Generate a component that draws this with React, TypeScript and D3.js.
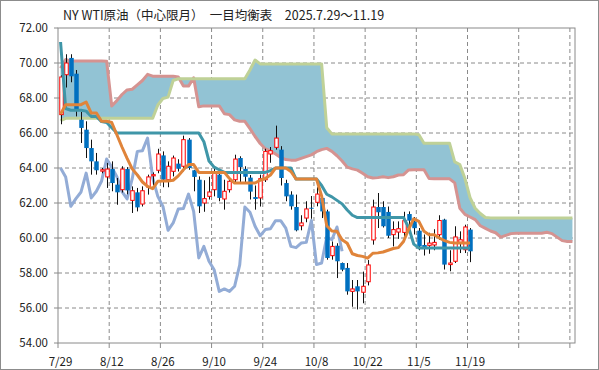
import React from "react"
import * as d3 from "d3"

// trading days 7/29 .. 11/19
const dates = [
  "7/29","7/30","7/31","8/1","8/4","8/5","8/6","8/7","8/8","8/11",
  "8/12","8/13","8/14","8/15","8/18","8/19","8/20","8/21","8/22","8/25",
  "8/26","8/27","8/28","8/29","9/2","9/3","9/4","9/5","9/8","9/9",
  "9/10","9/11","9/12","9/15","9/16","9/17","9/18","9/19","9/22","9/23",
  "9/24","9/25","9/26","9/29","9/30","10/1","10/2","10/3","10/6","10/7",
  "10/8","10/9","10/10","10/13","10/14","10/15","10/16","10/17","10/20","10/21",
  "10/22","10/23","10/24","10/27","10/28","10/29","10/30","10/31","11/3","11/4",
  "11/5","11/6","11/7","11/10","11/11","11/12","11/13","11/14","11/17","11/18",
  "11/19"
]
const tickLabels = ["7/29","8/12","8/26","9/10","9/24","10/8","10/22","11/5","11/19","",""]
const yTicks = [54, 56, 58, 60, 62, 64, 66, 68, 70, 72]

const open = [
  67.05, 69.33, 70.29, 69.39, 66.76, 66.19, 65.14, 64.38, 63.82, 63.49,
  63.94, 63.05, 62.76, 63.94, 62.15, 62.61, 61.94, 62.91, 63.55, 63.87,
  64.72, 63.33, 63.81, 64.25, 64.10, 65.62, 63.87, 63.33, 62.00, 62.38,
  62.76, 63.62, 62.23, 62.76, 63.33, 64.57, 63.95, 63.45, 62.34, 62.29,
  63.33, 64.80, 65.18, 65.05, 63.14, 62.48, 61.77, 60.70, 61.14, 61.73,
  62.04, 62.29, 61.52, 58.99, 59.56, 58.57, 58.29, 56.95, 57.24, 56.90,
  57.50, 59.89, 61.77, 61.77, 61.49, 60.19, 60.34, 60.32, 61.37, 60.95,
  60.42, 59.60, 59.58, 59.60, 60.19, 61.05, 58.48, 58.67, 59.75, 59.33,
  60.48
]
const high = [
  69.3, 70.5, 70.5, 69.6, 67.2, 66.67, 65.62, 64.86, 64.0, 64.29,
  64.38, 63.43, 64.1, 64.05, 62.95, 62.86, 62.95, 63.62, 63.75, 65.1,
  64.95, 64.38, 64.71, 64.5, 65.85, 65.71, 63.9, 63.52, 63.3, 63.5,
  64.1, 63.9, 63.33, 63.43, 64.76, 64.67, 64.1, 63.6, 63.0, 63.62,
  65.1, 65.2, 66.42, 65.25, 63.33, 62.67, 62.48, 61.3, 62.1, 62.4,
  62.9, 62.38, 61.62, 59.8, 59.7, 58.6, 58.57, 57.6, 57.6, 58.08,
  58.74, 62.19, 62.57, 62.1, 61.8, 60.95, 60.95, 61.5, 61.52, 61.2,
  60.57, 60.2, 60.3, 60.5, 61.3, 61.1, 59.3, 60.67, 60.38, 60.76,
  60.57
]
const low = [
  66.5, 68.6, 68.9, 66.95, 65.43, 64.57, 63.62, 63.62, 63.7, 62.86,
  62.67, 61.9, 62.6, 62.5, 61.43, 61.52, 61.8, 62.48, 63.0, 63.7,
  62.9, 62.9, 63.52, 63.8, 63.81, 63.9, 62.67, 61.43, 61.5, 62.2,
  62.38, 62.1, 61.62, 62.6, 63.14, 63.14, 63.1, 62.2, 61.62, 61.8,
  63.2, 64.3, 65.05, 63.0, 62.1, 61.62, 60.38, 60.44, 60.9, 61.1,
  61.81, 61.14, 58.76, 58.76, 57.71, 58.1, 56.76, 56.07, 55.92, 56.27,
  57.29, 59.62, 60.57, 60.6, 60.0, 59.52, 59.95, 59.95, 60.5, 60.2,
  59.3, 59.0, 59.1, 59.3, 59.9, 58.2, 58.1, 58.57, 59.14, 59.14,
  58.62
]
const close = [
  69.20, 70.00, 69.24, 67.30, 66.29, 65.14, 64.38, 63.87, 63.90, 63.94,
  63.14, 62.61, 63.94, 62.72, 62.70, 61.75, 62.70, 63.49, 63.62, 64.80,
  63.33, 64.10, 64.57, 63.96, 65.62, 64.00, 63.49, 61.81, 62.25, 62.63,
  63.71, 62.29, 62.67, 63.24, 64.51, 64.05, 63.50, 62.65, 62.23, 63.39,
  64.95, 64.99, 65.71, 63.43, 62.38, 61.81, 60.44, 60.86, 61.66, 61.68,
  62.51, 61.52, 58.86, 59.52, 58.67, 58.19, 56.95, 57.09, 56.95, 57.24,
  58.46, 61.77, 61.47, 60.67, 60.13, 60.48, 60.53, 60.99, 60.99, 60.56,
  59.52, 59.45, 59.71, 59.75, 61.00, 58.48, 58.57, 60.06, 59.90, 60.63,
  59.24
]

// 転換線
const tenkan = [
  67.09, 67.62, 67.62, 67.62, 67.62, 67.77, 67.14, 67.14, 66.67, 66.67,
  66.6, 65.9, 65.2, 64.55, 63.95, 63.6, 63.2, 62.95, 62.82, 63.24,
  63.26, 63.26, 63.3, 63.55, 63.9, 64.2, 64.2, 63.75, 63.75, 63.75,
  63.75, 63.75, 63.75, 63.4, 63.14, 63.14, 63.14, 63.14, 63.14, 63.3,
  63.4, 63.6, 64.0, 64.0, 64.0, 63.8, 63.37, 63.37, 63.37, 63.37,
  63.37, 62.4, 60.7, 60.4, 60.38, 59.9, 59.7, 59.1, 59.0, 58.95,
  58.85, 59.13, 59.15, 59.2, 59.3, 59.4, 59.45, 59.8, 60.5, 61.1,
  60.95, 60.38, 60.19, 60.19, 60.0, 59.85, 59.75, 59.71, 59.71, 59.71,
  59.71
]
// 基準線
const kijun = [
  71.2, 67.4, 67.3, 67.3, 67.3, 67.25, 66.95, 66.95, 66.65, 66.6,
  66.3, 66.0, 66.0, 66.0, 66.0, 66.0, 66.0, 66.0, 66.0, 66.0,
  66.0, 66.0, 66.0, 66.0, 66.0, 66.0, 66.0, 66.0, 65.5, 64.4,
  64.05, 63.9, 63.75, 63.75, 63.75, 63.75, 63.75, 63.75, 63.75, 63.75,
  63.75, 63.85, 64.0, 64.0, 64.0, 64.0, 63.37, 63.37, 63.37, 63.37,
  63.37, 63.0, 62.5, 62.35, 62.15, 61.95, 61.6, 61.3, 61.17, 61.17,
  61.17, 61.17, 61.17, 61.17, 61.17, 61.17, 61.17, 61.17, 60.6, 59.65,
  59.43, 59.43, 59.43, 59.43, 59.43, 59.43, 59.43, 59.43, 59.43, 59.43,
  59.43
]
// 先行スパン1
const senkouA = [
  69.7, 70.2, 70.11, 70.11, 70.11, 70.11, 70.11, 70.11, 70.11, 70.1,
  67.54, 67.85, 68.2, 68.46, 68.5, 68.75, 69.0, 69.35, 69.25, 69.25,
  69.25, 69.25, 69.25, 69.2, 68.68, 68.68, 69.15, 67.5, 67.55, 67.55,
  67.55, 67.55, 67.1, 67.05, 66.75, 66.67, 66.67, 66.25, 65.8, 65.4,
  65.1, 64.98, 64.8, 64.6, 64.48, 64.45, 64.45, 64.55, 64.65, 64.75,
  64.93, 65.05, 65.12, 64.95, 64.7, 64.4, 64.05, 63.95, 63.88, 63.7,
  63.5, 63.43, 63.45, 63.5, 63.45, 63.5, 63.6, 63.62, 63.89, 63.9,
  63.9, 63.9, 63.4, 63.38, 63.38, 63.38, 63.38, 63.15, 61.7, 61.35,
  61.2, 61.05, 60.7, 60.55, 60.4, 60.3, 60.05, 60.15, 60.25, 60.27,
  60.27, 60.27, 60.27, 60.27, 60.27, 60.33, 60.25, 60.05, 59.85, 59.8,
  59.8
]
// 先行スパン2
const senkouB = [
  66.7, 66.84, 66.84, 66.84, 66.84, 66.84, 66.84, 66.84, 66.84, 66.84,
  66.84, 66.84, 66.84, 66.84, 66.84, 66.84, 66.84, 66.84, 66.84, 67.6,
  67.97, 68.05, 69.0, 69.1, 69.1, 69.1, 69.1, 69.1, 69.1, 69.1,
  69.1, 69.1, 69.1, 69.1, 69.1, 69.1, 69.1, 69.6, 70.17, 69.95,
  69.95, 69.95, 69.95, 69.95, 69.95, 69.95, 69.95, 69.95, 69.95, 69.95,
  69.95, 69.95, 66.3, 65.95, 65.95, 65.95, 65.95, 65.95, 65.95, 65.95,
  65.95, 65.95, 65.95, 65.95, 65.95, 65.95, 65.95, 65.95, 65.95, 65.95,
  65.9, 65.41, 65.41, 65.41, 65.41, 65.41, 65.41, 64.35, 64.2, 63.4,
  62.3, 61.7, 61.4, 61.17, 61.15, 61.15, 61.15, 61.15, 61.15, 61.15,
  61.15, 61.15, 61.15, 61.15, 61.15, 61.15, 61.15, 61.15, 61.15, 61.15,
  61.15
]
// 遅行スパン (close shifted back 25 days)
const chikou = close.slice(25)

const W = 599
const H = 370
const plot = { left: 58, right: 575, top: 28, bottom: 343 }
const slots = d3.range(senkouA.length)

export default function App() {
  const x = d3.scaleBand<number>().domain(slots).range([plot.left, plot.right])
  const bw = x.bandwidth()
  const cx = (i: number) => (x(i) as number) + bw / 2
  const y = d3.scaleLinear().domain([54, 72]).range([plot.bottom, plot.top])

  const lineOf = (vals: number[]) =>
    d3.line<number>().x((_, i) => cx(i)).y((v) => y(v))(vals) || ""

  const cloud = d3.area<number>()
    .x((i) => cx(i))
    .y0((i) => y(senkouB[i]))
    .y1((i) => y(senkouA[i]))(slots) || ""

  const xTickIdx = d3.range(0, 101, 10)
  const font = "'Noto Sans CJK JP', 'Noto Sans', sans-serif"
  const bodyW = bw * 0.68

  return (
    <>
      <style>{`body{margin:0}`}</style>
      <svg width={W} height={H} style={{ display: "block" }} fontFamily={font}>
        <rect x={0.5} y={0.5} width={W - 1} height={H - 1} fill="white" stroke="#8c8c8c" />
        <text x={63} y={20} fontSize={12.5} fill="#222">
          NY WTI原油（中心限月）　一目均衡表　2025.7.29〜11.19
        </text>

        {/* grid */}
        {yTicks.filter((t) => t > 54 && t < 72).map((t) => (
          <line key={"gy" + t} x1={plot.left} x2={plot.right} y1={y(t)} y2={y(t)}
            stroke="#8a8a8a" strokeDasharray="4,3" />
        ))}
        {xTickIdx.filter((i) => i > 0).map((i) => (
          <line key={"gx" + i} x1={x(i)} x2={x(i)} y1={plot.top} y2={plot.bottom}
            stroke="#8a8a8a" strokeDasharray="4,3" />
        ))}

        {/* cloud */}
        <path d={cloud} fill="#92c3d4" />
        <path d={lineOf(senkouA)} fill="none" stroke="#d59391" strokeWidth={3} strokeLinejoin="round" />
        <path d={lineOf(senkouB)} fill="none" stroke="#bfd197" strokeWidth={3} strokeLinejoin="round" />
        <path d={lineOf(chikou)} fill="none" stroke="#93acd6" strokeWidth={3} strokeLinejoin="round" />

        {/* candles */}
        {close.map((c, i) => {
          const o = open[i]
          const up = c >= o
          const top = y(Math.max(o, c))
          const h = Math.max(1, y(Math.min(o, c)) - top)
          const xc = Math.round(cx(i)) + 0.5
          return (
            <g key={"c" + i}>
              <line x1={xc} x2={xc} y1={y(high[i])} y2={y(low[i])} stroke="#111" strokeWidth={1} />
              {up ? (
                <rect x={xc - bodyW / 2} y={top} width={bodyW} height={h}
                  fill="white" stroke="#ff0000" strokeWidth={1} />
              ) : (
                <rect x={xc - bodyW / 2 - 0.5} y={top} width={bodyW + 1} height={h} fill="#0070c0" />
              )}
            </g>
          )
        })}

        <path d={lineOf(kijun)} fill="none" stroke="#3f96a8" strokeWidth={3} strokeLinejoin="round" />
        <path d={lineOf(tenkan)} fill="none" stroke="#e0843a" strokeWidth={3} strokeLinejoin="round" />

        {/* frame */}
        <rect x={plot.left} y={plot.top} width={plot.right - plot.left} height={plot.bottom - plot.top}
          fill="none" stroke="#8a8a8a" />

        {/* y axis */}
        {yTicks.map((t) => (
          <g key={"yt" + t}>
            <line x1={plot.left - 4} x2={plot.left} y1={y(t)} y2={y(t)} stroke="#8a8a8a" />
            <text x={48} y={y(t) + 4} fontSize={11.5} textAnchor="end" fill="#222">
              {t.toFixed(2)}
            </text>
          </g>
        ))}

        {/* x axis */}
        {xTickIdx.map((i, k) => (
          <g key={"xt" + i}>
            <line x1={x(i)} x2={x(i)} y1={plot.bottom} y2={plot.bottom + 5} stroke="#8a8a8a" />
            {tickLabels[k] ? (
              <text x={cx(i)} y={366} fontSize={11.5} textAnchor="middle" fill="#222">
                {tickLabels[k] === dates[i] ? dates[i] : tickLabels[k]}
              </text>
            ) : null}
          </g>
        ))}
      </svg>
    </>
  )
}
